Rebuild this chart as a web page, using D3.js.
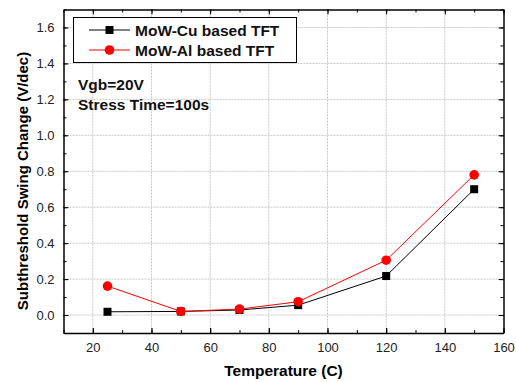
<!DOCTYPE html>
<html>
<head>
<meta charset="utf-8">
<script src="https://cdn.jsdelivr.net/npm/d3@7"></script>
<style>
    body { margin: 0; background: #fff; }
    svg text { font-family: "Liberation Sans", Arial, sans-serif; }
</style>
</head>
<body>
<div id="chart"></div>
<script>
var temps = [25, 50, 70, 90, 120, 150];
var cuValues = [0.018, 0.02, 0.028, 0.055, 0.217, 0.70];
var alValues = [0.161, 0.02, 0.033, 0.074, 0.305, 0.78];
var xTicks = [20, 40, 60, 80, 100, 120, 140, 160];
var yTicks = [0, 0.2, 0.4, 0.6, 0.8, 1.0, 1.2, 1.4, 1.6];
var seriesNames = ["MoW-Cu based TFT", "MoW-Al based TFT"];

var width = 516, height = 382;
var plotLeft = 63.5, plotRight = 503.5, plotTop = 9.5, plotBottom = 333;

var svg = d3.select("#chart").append("svg")
    .attr("width", width)
    .attr("height", height);

var x = d3.scaleLinear().domain([10, 160]).range([plotLeft, plotRight]);
var y = d3.scaleLinear().domain([-0.1, 1.7]).range([plotBottom, plotTop]);

// grid
svg.append("g").selectAll("line").data(xTicks.slice(0, -1)).enter().append("line")
    .attr("x1", function(d){ return x(d); }).attr("x2", function(d){ return x(d); })
    .attr("y1", plotTop).attr("y2", plotBottom)
    .attr("stroke", "#c8c8c8").attr("stroke-dasharray", "2,1");
svg.append("g").selectAll("line").data(yTicks).enter().append("line")
    .attr("y1", function(d){ return y(d); }).attr("y2", function(d){ return y(d); })
    .attr("x1", plotLeft).attr("x2", plotRight)
    .attr("stroke", "#c8c8c8").attr("stroke-dasharray", "2,1");

// axes with inward ticks
var xMinor = d3.range(10, 161, 10);
var yMinor = d3.range(-0.1, 1.71, 0.1);

function styleAxis(g) {
    g.select(".domain").attr("stroke", "#000").attr("stroke-width", 1.5);
    g.selectAll(".tick line").attr("stroke", "#000");
    g.selectAll("text").attr("font-size", 13).attr("fill", "#222");
}

var xb = svg.append("g").attr("transform", "translate(0," + plotBottom + ")")
    .call(d3.axisBottom(x).tickValues(xTicks).tickSize(-5).tickPadding(10).tickSizeOuter(0));
styleAxis(xb);
xb.selectAll(".tick line").attr("stroke-width", 1.2);
var xt = svg.append("g").attr("transform", "translate(0," + plotTop + ")")
    .call(d3.axisTop(x).tickValues(xTicks).tickSize(-5).tickFormat("").tickSizeOuter(0));
styleAxis(xt);
svg.append("g").attr("transform", "translate(0," + plotBottom + ")")
    .call(d3.axisBottom(x).tickValues(xMinor).tickSize(-3).tickFormat("").tickSizeOuter(0))
    .select(".domain").remove();
svg.append("g").attr("transform", "translate(0," + plotTop + ")")
    .call(d3.axisTop(x).tickValues(xMinor).tickSize(-3).tickFormat("").tickSizeOuter(0))
    .select(".domain").remove();

var yl = svg.append("g").attr("transform", "translate(" + plotLeft + ",0)")
    .call(d3.axisLeft(y).tickValues(yTicks).tickSize(-5).tickPadding(9).tickFormat(d3.format(".1f")).tickSizeOuter(0));
styleAxis(yl);
var yr = svg.append("g").attr("transform", "translate(" + plotRight + ",0)")
    .call(d3.axisRight(y).tickValues(yTicks).tickSize(-5).tickFormat("").tickSizeOuter(0));
styleAxis(yr);
svg.append("g").attr("transform", "translate(" + plotLeft + ",0)")
    .call(d3.axisLeft(y).tickValues(yMinor).tickSize(-3).tickFormat("").tickSizeOuter(0))
    .select(".domain").remove();
svg.append("g").attr("transform", "translate(" + plotRight + ",0)")
    .call(d3.axisRight(y).tickValues(yMinor).tickSize(-3).tickFormat("").tickSizeOuter(0))
    .select(".domain").remove();

// axis titles
svg.append("text")
    .attr("x", (plotLeft + plotRight) / 2).attr("y", 376)
    .attr("text-anchor", "middle").attr("font-weight", "bold").attr("font-size", 15.5)
    .text("Temperature (C)");
svg.append("text")
    .attr("transform", "translate(28,181) rotate(-90)")
    .attr("text-anchor", "middle").attr("font-weight", "bold").attr("font-size", 15)
    .text("Subthreshold Swing Change (V/dec)");

// lines
var line = d3.line()
    .x(function(d, i){ return x(temps[i]); })
    .y(function(d){ return y(d); });

svg.append("path").datum(cuValues).attr("d", line)
    .attr("fill", "none").attr("stroke", "#000").attr("stroke-width", 1);
svg.append("path").datum(alValues).attr("d", line)
    .attr("fill", "none").attr("stroke", "#ff0000").attr("stroke-width", 1);

svg.append("g").selectAll("rect").data(cuValues).enter().append("rect")
    .attr("x", function(d, i){ return x(temps[i]) - 4; })
    .attr("y", function(d){ return y(d) - 4; })
    .attr("width", 8).attr("height", 8)
    .attr("fill", "#000");
svg.append("g").selectAll("circle").data(alValues).enter().append("circle")
    .attr("cx", function(d, i){ return x(temps[i]); })
    .attr("cy", function(d){ return y(d); })
    .attr("r", 4.8)
    .attr("fill", "#ff0000");

// legend
var legend = svg.append("g");
legend.append("rect")
    .attr("x", 73.5).attr("y", 17.5).attr("width", 223).attr("height", 45)
    .attr("fill", "#fff").attr("stroke", "#000").attr("stroke-width", 1);
var colors = ["#000", "#ff0000"];
seriesNames.forEach(function(name, i) {
    var ly = 30 + i * 20;
    legend.append("line").attr("x1", 89).attr("x2", 130).attr("y1", ly).attr("y2", ly)
        .attr("stroke", colors[i]).attr("stroke-width", 1);
    if (i == 0) {
        legend.append("rect").attr("x", 105.5).attr("y", ly - 4).attr("width", 8).attr("height", 8).attr("fill", "#000");
    } else {
        legend.append("circle").attr("cx", 109.5).attr("cy", ly).attr("r", 4.8).attr("fill", "#ff0000");
    }
    legend.append("text").attr("x", 135).attr("y", ly + 5.5)
        .attr("font-weight", "bold").attr("font-size", 15.5).attr("fill", "#111")
        .text(name);
});

// annotation
svg.append("text").attr("x", 78).attr("y", 90)
    .attr("font-weight", "bold").attr("font-size", 15.5).attr("fill", "#111")
    .text("Vgb=20V");
svg.append("text").attr("x", 78).attr("y", 110)
    .attr("font-weight", "bold").attr("font-size", 15.5).attr("fill", "#111")
    .text("Stress Time=100s");
</script>
</body>
</html>
